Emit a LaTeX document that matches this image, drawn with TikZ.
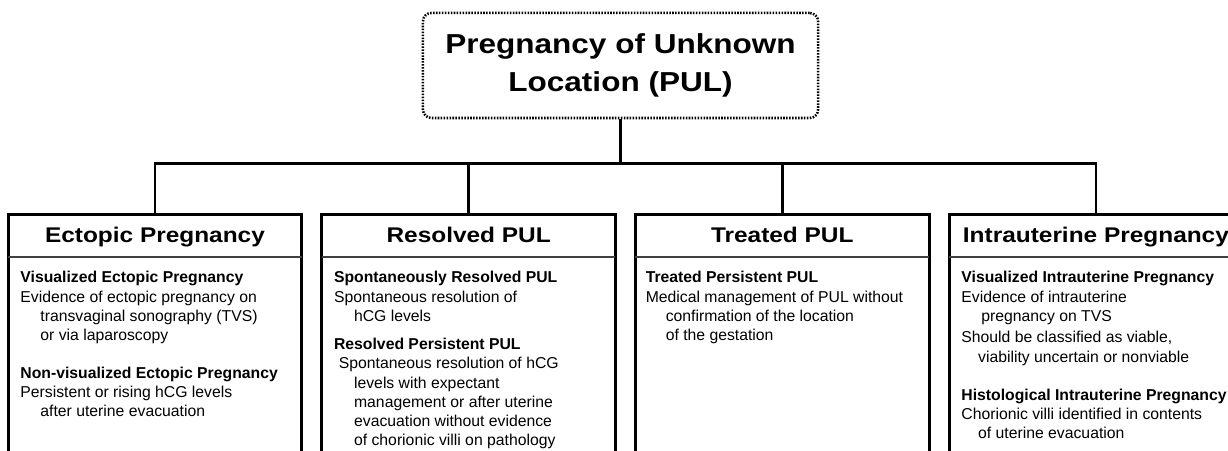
\documentclass[tikz,border=0pt]{standalone}
\usepackage{fontspec}
\setmainfont{Liberation Sans}
\newfontfamily\widesans{Liberation Sans}[FakeStretch=1.15]
\usetikzlibrary{positioning}
\newcommand{\indline}{\hspace*{0.5cm}}

\begin{document}
\begin{tikzpicture}[
    x=0.025cm, y=-0.025cm,
    node distance=0.5cm,
    every node/.style={font=\fontsize{11.2}{13.7}\selectfont},
    ttl/.style={draw, line width=1.8pt, dash pattern=on 1.1pt off 1pt, rounded corners=6pt,
        minimum width=9.875cm, minimum height=2.625cm, align=center, inner sep=0pt,
        font=\widesans\bfseries\fontsize{19.5}{27}\selectfont},
    hdr/.style={minimum width=7.325cm, minimum height=1.05cm, inner sep=0pt,
        text height=0.92em, text depth=0pt, font=\widesans\bfseries\fontsize{15.1}{18}\selectfont},
    txt/.style={align=left, inner sep=0pt},
    frame/.style={line width=2.2pt},
    divider/.style={line width=1.3pt, black!75},
    conn/.style={line width=2pt}
]
    \useasboundingbox (0,0) rectangle (1228,451);
    \clip (0,0) rectangle (1228,451);

    \node[ttl] (pul) at (620.5,65.5) {Pregnancy of Unknown\\Location (PUL)};
    \coordinate[below=1.1cm of pul] (bus);

    % the four classes
    \node[hdr]               (ect) at (155,236) {Ectopic Pregnancy};
    \node[hdr, right=of ect] (res) {Resolved PUL};
    \node[hdr, right=of res] (trt) {Treated PUL};
    \node[hdr, right=of trt] (iup) {Intrauterine Pregnancy};

    \draw[conn] (pul) -- (bus);
    \foreach \c in {ect,res,trt,iup} {
        \draw[conn] (bus) -| (\c.north);
        \draw[frame] (\c.north east) ++(0,250) -- (\c.north east) -- (\c.north west) -- ++(0,250);
        \draw[divider] (\c.south west) -- (\c.south east);
    }

    \node[txt, below right=0.35cm and 0.3cm of ect.south west] (ectx) {%
        \textbf{Visualized Ectopic Pregnancy}\\
        Evidence of ectopic pregnancy on\\
        \indline transvaginal sonography (TVS)\\
        \indline or via laparoscopy\\[0.45cm]
        \textbf{Non-visualized Ectopic Pregnancy}\\
        Persistent or rising hCG levels\\
        \indline after uterine evacuation};
    \node[txt, below right=0.35cm and 0.3cm of res.south west] (resx) {%
        \textbf{Spontaneously Resolved PUL}\\
        Spontaneous resolution of\\
        \indline hCG levels\\[0.22cm]
        \textbf{Resolved Persistent PUL}\\
        \hspace*{0.12cm}Spontaneous resolution of hCG\\
        \indline levels with expectant\\
        \indline management or after uterine\\
        \indline evacuation without evidence\\
        \indline of chorionic villi on pathology};
    \node[txt, below right=0.35cm and 0.25cm of trt.south west] (trtx) {%
        \textbf{Treated Persistent PUL}\\
        Medical management of PUL without\\
        \indline confirmation of the location\\
        \indline of the gestation};
    \node[txt, below right=0.35cm and 0.3cm of iup.south west] (iupx) {%
        \textbf{Visualized Intrauterine Pregnancy}\\
        Evidence of intrauterine\\
        \indline pregnancy on TVS\\[0.05cm]
        Should be classified as viable,\\
        \hspace*{0.42cm}viability uncertain or nonviable\\[0.47cm]
        \textbf{Histological Intrauterine Pregnancy}\\
        Chorionic villi identified in contents\\
        \hspace*{0.42cm}of uterine evacuation};
\end{tikzpicture}
\end{document}
